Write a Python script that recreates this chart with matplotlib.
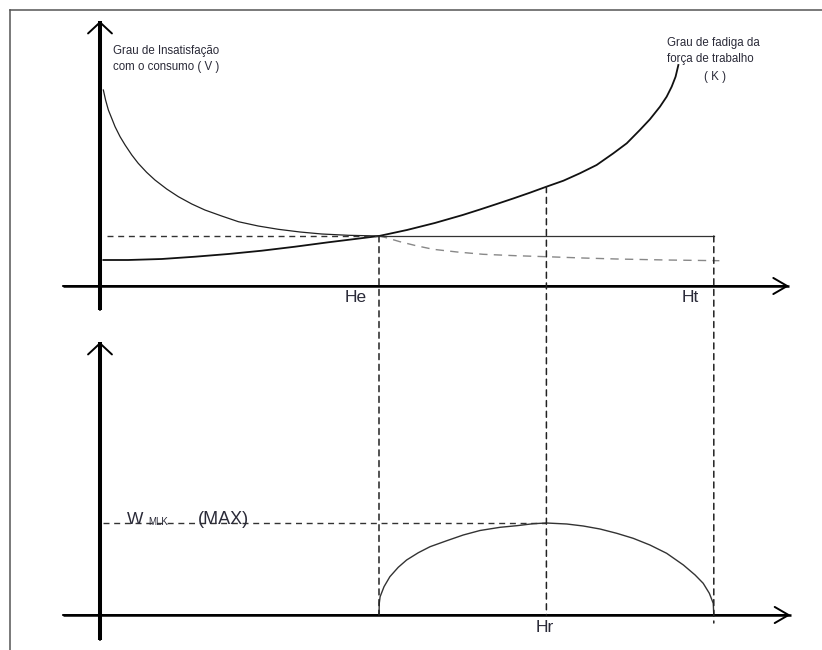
import numpy as np
import matplotlib.pyplot as plt
from matplotlib.patches import ConnectionPatch
from matplotlib.lines import Line2D

plt.rcParams['font.family'] = ['Liberation Sans', 'DejaVu Sans']
plt.rcParams['lines.scale_dashes'] = False

# horas: equilibrio (He), otima (Hr), total (Ht)
He, Hr, Ht = 10.0, 16.0, 22.0

# grau de insatisfacao com o consumo (V)
v_h = [0.12, 0.20, 0.30, 0.42, 0.54, 0.72, 0.90, 1.14, 1.37, 1.67, 1.97, 2.39,
       2.81, 3.29, 3.76, 4.36, 4.96, 5.67, 6.39, 7.17, 7.95, 8.9, 10.0]
v_val = [19.6, 18.6, 17.6, 16.77, 15.93, 14.93, 14.1, 13.1, 12.27, 11.37, 10.6, 9.7,
         8.93, 8.2, 7.6, 7.0, 6.43, 6.0, 5.67, 5.4, 5.2, 5.07, 5.0]
# continuacao tracejada de V
v2_h = [10.0, 10.3, 10.75, 11.3, 11.94, 12.8, 13.73, 14.9, 16.0, 17.3, 18.52, 20.3, 22.2]
v2_val = [5.0, 4.8, 4.43, 4.05, 3.67, 3.4, 3.17, 3.03, 2.93, 2.8, 2.7, 2.6, 2.53]
# grau de fadiga da forca de trabalho (K)
k_h = [0.12, 1.01, 2.21, 3.41, 4.6, 5.8, 6.99, 8.18, 9.14, 10.0, 11.0, 12.0, 13.0,
       13.62, 14.22, 14.81, 15.41, 16.0, 16.61, 17.2, 17.8, 18.4, 18.88, 19.35,
       19.71, 20.07, 20.31, 20.49, 20.63, 20.73]
k_val = [2.6, 2.6, 2.7, 2.93, 3.2, 3.53, 3.93, 4.37, 4.7, 5.0, 5.6, 6.3, 7.1,
         7.65, 8.2, 8.75, 9.33, 9.93, 10.53, 11.27, 12.1, 13.27, 14.27, 15.6,
         16.67, 17.93, 18.93, 19.93, 20.93, 22.1]
# W entre He e Ht
w_h = [10.0, 10.01, 10.04, 10.18, 10.39, 10.69, 10.99, 11.41, 11.83, 12.43, 13.02,
       13.62, 14.34, 14.94, 15.53, 16.0, 16.73, 17.32, 17.92, 18.52, 19.11, 19.71,
       20.31, 20.91, 21.33, 21.62, 21.84, 21.98, 22.0]
w_val = [0, 1.17, 1.83, 2.83, 3.83, 4.77, 5.5, 6.23, 6.83, 7.43, 8.0,
         8.45, 8.77, 8.93, 9.13, 9.2, 9.1, 8.9, 8.6, 8.17, 7.67, 7.0,
         6.17, 5.0, 4.0, 3.17, 2.17, 1.17, 0]
w_max = 9.2
nivel_he = 5.0
k_hr = 9.93

txt = '#2a2a38'
dash = (0, (4.3, 3.4))

fig = plt.figure(figsize=(8.22, 6.5), dpi=100)
ax1 = fig.add_axes([0, 0.5, 1, 0.5])
ax2 = fig.add_axes([0, 0, 1, 0.5])
ax1.set_xlim(-3.584, 25.878)
ax1.set_ylim(-3.9, 28.6)
ax2.set_xlim(-3.584, 25.878)
ax2.set_ylim(-3.5, 29.0)
for ax in (ax1, ax2):
    ax.set_axis_off()


def seta(ax, x0, y0, x1, y1, lw, hl, hw):
    ax.plot([x0, x1], [y0, y1], color='k', lw=lw, solid_capstyle='butt', clip_on=False)
    ax.annotate('', xy=(x1, y1), xytext=(x0, y0), annotation_clip=False,
                arrowprops=dict(arrowstyle='->,head_length=%s,head_width=%s' % (hl, hw),
                                lw=1.4, color='k', mutation_scale=20,
                                shrinkA=0, shrinkB=0))


# eixos
seta(ax1, 0, -2.4, 0, 26.5, 2.9, 0.4, 0.43)
seta(ax1, -1.33, 0, 24.7, 0, 1.8, 0.5, 0.29)
seta(ax2, 0, -2.5, 0, 27.3, 2.9, 0.4, 0.43)
seta(ax2, -1.33, 0, 24.75, 0, 1.8, 0.5, 0.29)

# curvas do painel superior
ax1.plot(v_h, v_val, color='#222', lw=0.9, solid_joinstyle='round')
ax1.plot(v2_h, v2_val, color='#888', lw=1.0, linestyle=(0, (6, 4.5)))
ax1.plot(k_h, k_val, color='#111', lw=1.3, clip_on=False, solid_joinstyle='round')
ax1.plot([0.25, He], [nivel_he, nivel_he], color='#333', lw=1.0, linestyle=dash)
ax1.plot([He, Ht], [nivel_he, nivel_he], color='#333', lw=0.9)

# curva do painel inferior
ax2.plot(w_h, w_val, color='#333', lw=1.0, solid_joinstyle='round')
ax2.plot([0.1, Hr], [w_max, w_max], color='#333', lw=1.0, linestyle=dash)

# linhas verticais tracejadas
for h, y_top, y_bot in [(He, nivel_he, 0), (Hr, k_hr, 0), (Ht, nivel_he, -0.8)]:
    con = ConnectionPatch(xyA=(h, y_top), coordsA=ax1.transData,
                          xyB=(h, y_bot), coordsB=ax2.transData,
                          color='#222', lw=1.1, linestyle=dash)
    fig.add_artist(con)

# textos
ax1.text(0.47, 22.7, 'Grau de Insatisfação\ncom o consumo ( V )', fontsize=8.3,
         color=txt, ha='left', va='center', linespacing=1.4)
ax1.text(20.32, 23.5, 'Grau de fadiga da\nforça de trabalho', fontsize=8.3,
         color=txt, ha='left', va='center', linespacing=1.4)
ax1.text(22.04, 20.9, '( K )', fontsize=8.3, color=txt, ha='center', va='center')
ax1.text(9.57, -1.1, 'He', fontsize=12.5, color=txt, ha='right', va='center')
ax1.text(21.15, -1.1, 'Ht', fontsize=12.5, color=txt, ha='center', va='center')
ax2.text(Hr - 0.05, -1.2, 'Hr', fontsize=12.5, color=txt, ha='center', va='center')
ax2.text(0.97, 9.1, 'W', fontsize=12.5, color=txt, ha='left', va='baseline')
ax2.text(1.72, 9.0, 'MLK', fontsize=7, color=txt, ha='left', va='baseline')
ax2.text(3.51, 9.1, '(MAX)', fontsize=13, color=txt, ha='left', va='baseline')

# moldura
fig.add_artist(Line2D([10 / 822, 1], [1 - 10 / 650, 1 - 10 / 650],
                      transform=fig.transFigure, color='#555', lw=1.1))
fig.add_artist(Line2D([10 / 822, 10 / 822], [0, 1 - 10 / 650],
                      transform=fig.transFigure, color='#555', lw=1.1))

fig.savefig('out.png', dpi=100)
